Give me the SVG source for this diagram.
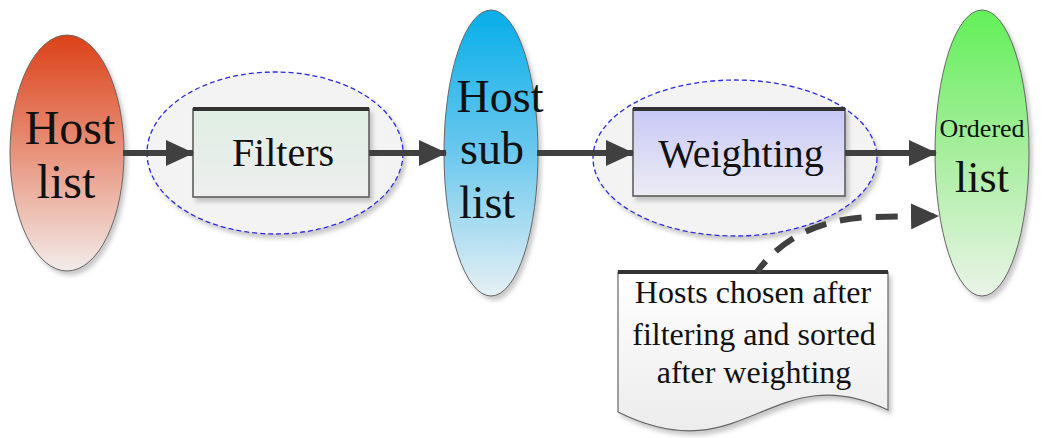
<svg xmlns="http://www.w3.org/2000/svg" width="1049" height="438" viewBox="0 0 1049 438">
<defs>
<linearGradient id="gRed" x1="0" y1="0" x2="0" y2="1"><stop offset="0" stop-color="#db4118"/><stop offset="0.5" stop-color="#e8937c"/><stop offset="1" stop-color="#f2ecea"/></linearGradient>
<linearGradient id="gBlue" x1="0" y1="0" x2="0" y2="1"><stop offset="0" stop-color="#06aee9"/><stop offset="0.5" stop-color="#6cc8ee"/><stop offset="1" stop-color="#e6f0f4"/></linearGradient>
<linearGradient id="gGreen" x1="0" y1="0" x2="0" y2="1"><stop offset="0" stop-color="#62f058"/><stop offset="0.5" stop-color="#a8ee9e"/><stop offset="1" stop-color="#eaf4e8"/></linearGradient>
<linearGradient id="gFilt" x1="0" y1="0" x2="0" y2="1"><stop offset="0" stop-color="#deefe3"/><stop offset="1" stop-color="#eeeeee"/></linearGradient>
<linearGradient id="gWeight" x1="0" y1="0" x2="0" y2="1"><stop offset="0" stop-color="#c8c8f6"/><stop offset="1" stop-color="#ececf4"/></linearGradient>
<linearGradient id="gNote" x1="0" y1="0" x2="0" y2="1"><stop offset="0" stop-color="#ffffff"/><stop offset="1" stop-color="#ececec"/></linearGradient>
<filter id="sh" x="-20%" y="-20%" width="140%" height="140%"><feDropShadow dx="3" dy="4" stdDeviation="2" flood-color="#888" flood-opacity="0.45"/></filter>
<marker id="ah" viewBox="0 0 28 26" refX="27" refY="13" markerWidth="28" markerHeight="26" markerUnits="userSpaceOnUse" orient="auto"><path d="M0,0 L28,13 L0,26 Z" fill="#404040"/></marker>
</defs>
<style>
text{font-family:"Liberation Serif","Times New Roman","DejaVu Serif",serif;fill:#111;text-anchor:middle}
.el{stroke:#666;stroke-width:1}
.grp{fill:#f3f3f3;stroke:#2a2ae0;stroke-width:1.3;stroke-dasharray:5,3}
.box{stroke:#555;stroke-width:1.5}
.top{stroke:#333;stroke-width:4}
.con{fill:none;stroke:#404040;stroke-width:6}
</style>
<g id="filtersGroup"><ellipse class="grp" cx="275" cy="153" rx="128" ry="81" filter="url(#sh)"/></g>
<g id="weightingGroup"><ellipse class="grp" cx="735" cy="158" rx="142" ry="78" filter="url(#sh)"/></g>
<g id="hostList">
<ellipse class="el" cx="67" cy="153" rx="57" ry="118" fill="url(#gRed)" filter="url(#sh)"/>
<text font-family="Liberation Serif, serif" x="70" y="144" font-size="48">Host</text>
<text font-family="Liberation Serif, serif" x="66" y="198" font-size="48">list</text>
</g>
<g id="filters">
<rect class="box" x="193" y="109" width="176" height="88" fill="url(#gFilt)" filter="url(#sh)"/>
<line class="top" x1="193" y1="109" x2="369" y2="109"/>
<text x="283" y="166" font-size="40">Filters</text>
</g>
<g id="hostSubList">
<ellipse class="el" cx="491" cy="153" rx="47" ry="143" fill="url(#gBlue)" filter="url(#sh)"/>
<text x="500" y="112" font-size="46">Host</text>
<text x="492" y="164" font-size="46">sub</text>
<text x="487" y="218" font-size="46">list</text>
</g>
<g id="weighting">
<rect class="box" x="633" y="109" width="212" height="87" fill="url(#gWeight)" filter="url(#sh)"/>
<line class="top" x1="633" y1="109" x2="845" y2="109"/>
<text x="741" y="167" font-size="40">Weighting</text>
</g>
<g id="orderedList">
<ellipse class="el" cx="982" cy="153" rx="47" ry="143" fill="url(#gGreen)" filter="url(#sh)"/>
<text x="982" y="137" font-size="26">Ordered</text>
<text x="982" y="192" font-size="44">list</text>
</g>
<g id="note">
<path d="M618,272 H888 V410 C770,355 745,475 618,412 Z" fill="url(#gNote)" stroke="#666" stroke-width="1.2" filter="url(#sh)"/>
<line class="top" x1="618" y1="272" x2="888" y2="272"/>
<text x="753" y="303" font-size="32">Hosts chosen after</text>
<text x="754" y="345" font-size="32">filtering and sorted</text>
<text x="754" y="383" font-size="32">after weighting</text>
</g>
<g id="connectors">
<line class="con" x1="123" y1="153" x2="193" y2="153" marker-end="url(#ah)"/>
<line class="con" x1="369" y1="153" x2="446" y2="153" marker-end="url(#ah)"/>
<line class="con" x1="537" y1="153" x2="633" y2="153" marker-end="url(#ah)"/>
<line class="con" x1="845" y1="153" x2="936" y2="153" marker-end="url(#ah)"/>
<path class="con" d="M757,272 Q795,220 870,217 L938,216" stroke-dasharray="22,14" stroke-dashoffset="8" marker-end="url(#ah)"/>
</g>
</svg>
